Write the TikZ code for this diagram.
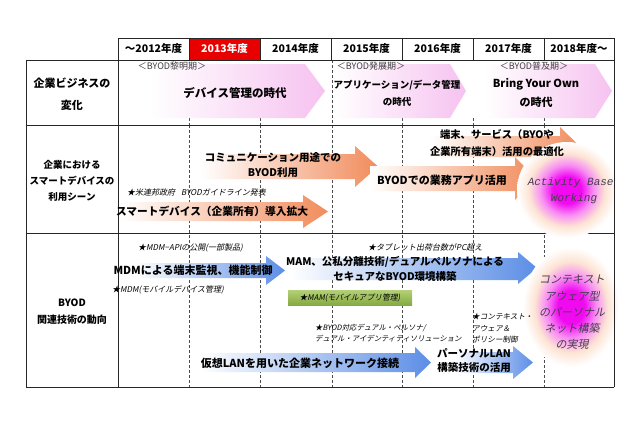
\documentclass[tikz,border=0pt]{standalone}
\usepackage{fontspec}
\newfontfamily\jp{Noto Sans CJK JP}
\newfontfamily\jpit{Noto Sans CJK JP}[FakeSlant=0.2]
\newfontfamily\abw{Liberation Mono}
\definecolor{pinkA}{RGB}{246,194,240}
\definecolor{orngA}{RGB}{241,140,92}
\definecolor{blueA}{RGB}{92,142,230}
\definecolor{hdrred}{RGB}{232,0,0}
\definecolor{grnTop}{RGB}{180,208,120}
\definecolor{grnBot}{RGB}{132,170,66}
\definecolor{glowM}{RGB}{240,10,240}
\definecolor{glowP}{RGB}{248,140,244}
\definecolor{peach}{RGB}{253,228,212}
\definecolor{txtgray}{RGB}{70,60,80}
\pgfdeclareradialshading{glowshade}{\pgfpoint{0bp}{0bp}}{color(0bp)=(glowM); color(7bp)=(glowM); color(13bp)=(glowP); color(19bp)=(peach); color(25bp)=(white); color(50bp)=(white)}
\begin{document}
\begin{tikzpicture}[x=1pt,y=-1pt,
  tbl/.style={draw=black!85, line width=0.8pt},
  dsh/.style={draw=black!70, line width=0.7pt, dash pattern=on 3pt off 2pt},
  hdr/.style={font=\fontsize{10.5}{12}\jp\bfseries, inner sep=0pt},
  rowlbl/.style={align=center, inner sep=0pt},
  era/.style={font=\fontsize{9}{11}\jp, text=black!75, inner sep=0pt},
  main/.style={font=\fontsize{11}{15}\jp\bfseries, align=center, inner sep=0pt},
  note/.style={font=\fontsize{8}{11.5}\jpit, align=left, inner sep=0pt, anchor=west},
  pinkarrow/.style={left color=white, middle color=pinkA!55!white, right color=pinkA},
  orngarrow/.style={left color=white, middle color=orngA!55!white, right color=orngA},
  bluearrow/.style={left color=white, middle color=blueA!55!white, right color=blueA}
]
\useasboundingbox (0,0) rectangle (640,426);
\fill[white] (0,0) rectangle (640,426);

% header red cell
\fill[hdrred] (189,38) rectangle (260,60);

% dashed column guides
\foreach \x in {189,260,402,473,544} \draw[dsh] (\x,118) -- (\x,125);
\draw[dsh] (332,60) -- (332,125);
\foreach \x in {189,260,332,402,473,544} \draw[dsh] (\x,125) -- (\x,387);

% row separators
\draw[tbl] (26,60) -- (614,60);
\draw[tbl] (26,125) -- (614,125);
\draw[tbl] (26,233) -- (614,233);
\draw[tbl] (26,387) -- (614,387);
\draw[tbl] (118,38) -- (614,38);
\foreach \x in {189,260,331,402,473,544} \draw[tbl] (\x,38) -- (\x,60);
\draw[tbl] (26,60) -- (26,387);
\draw[tbl] (118,38) -- (118,387);

% row 1 pink arrows
\shade[pinkarrow] (150,64) -- (305,64) -- (325,91) -- (305,118) -- (150,118) -- cycle;
\shade[pinkarrow] (335,64) -- (450,64) -- (466,91) -- (450,118) -- (335,118) -- cycle;
\shade[pinkarrow] (485,64) -- (595,64) -- (612,91) -- (595,118) -- (485,118) -- cycle;

% row 2 orange arrows
\shade[orngarrow] (120,202) -- (303,202) -- (303,195) -- (328,211.5) -- (303,228) -- (303,221) -- (120,221) -- cycle;
\shade[orngarrow] (200,154) -- (355,154) -- (355,146) -- (378,166.5) -- (355,187) -- (355,179) -- (200,179) -- cycle;
\shade[orngarrow] (370,166) -- (515,166) -- (515,157) -- (536,178.5) -- (515,200) -- (515,191) -- (370,191) -- cycle;
\shade[orngarrow] (430,136) -- (560,136) -- (560,127) -- (580,146.5) -- (560,166) -- (560,157) -- (430,157) -- cycle;

% row 3 blue arrows
\shade[bluearrow] (135,263) -- (266,263) -- (266,256) -- (285,270.5) -- (266,285) -- (266,278) -- (135,278) -- cycle;
\shade[bluearrow] (290,258) -- (518,258) -- (518,252) -- (537,268) -- (518,284) -- (518,280) -- (290,280) -- cycle;
\shade[bluearrow] (200,353) -- (415,353) -- (415,347) -- (431,362.5) -- (415,378) -- (415,372) -- (200,372) -- cycle;
\shade[bluearrow] (455,352) -- (513,352) -- (513,346) -- (533,362.5) -- (513,379) -- (513,373) -- (455,373) -- cycle;

% green box
\shade[top color=grnTop, bottom color=grnBot] (288,290) rectangle (412,305);

% glows
\begin{scope}
\clip (118,126) rectangle (614,240);
\shade[shading=glowshade] (567,190) ellipse [x radius=50pt, y radius=48pt];
\node[font=\fontsize{11}{16}\abw\itshape, text=txtgray, align=center, inner sep=0pt] (abw) at (574,191) {Activity Based\\Working};
\end{scope}
\shade[shading=glowshade] (571,307) ellipse [x radius=48pt, y radius=60pt];

% outer right border
\draw[tbl] (614,38) -- (614,387);

% header texts
\node[hdr] (h1) at (153.5,49) {～2012年度};
\node[hdr, text=white] (h2) at (224.5,49) {2013年度};
\node[hdr] (h3) at (295.5,49) {2014年度};
\node[hdr] (h4) at (366.5,49) {2015年度};
\node[hdr] (h5) at (437.5,49) {2016年度};
\node[hdr] (h6) at (508.5,49) {2017年度};
\node[hdr] (h7) at (579,49) {2018年度～};

% row labels
\node[rowlbl, font=\fontsize{11}{22}\jp\bfseries] (r1) at (72,94) {企業ビジネスの\\変化};
\node[rowlbl, font=\fontsize{9.5}{16}\jp\bfseries] (r2) at (72,181) {企業における\\スマートデバイスの\\利用シーン};
\node[rowlbl, font=\fontsize{10}{17}\jp\bfseries] (r3) at (72,311.5) {BYOD\\関連技術の動向};

% row 1 texts
\node[era] (e1) at (172,66) {＜BYOD黎明期＞};
\node[era] (e2) at (371,66) {＜BYOD発展期＞};
\node[era] (e3) at (534,66) {＜BYOD普及期＞};
\node[main, font=\fontsize{11.5}{15}\jp\bfseries] (t1) at (235,93) {デバイス管理の時代};
\node[main, font=\fontsize{9.5}{17}\jp\bfseries] (t2) at (397,93) {アプリケーション/データ管理\\の時代};
\node[main, font=\fontsize{11}{19}\jp\bfseries] (t3) at (536,92.5) {Bring Your Own\\の時代};

% row 2 texts
\node[note] (n1) at (127,192) {★米連邦政府\hspace{6pt}BYODガイドライン発表};
\node[main, font=\fontsize{10.7}{15}\jp\bfseries] (a1) at (212,211) {スマートデバイス（企業所有）導入拡大};
\node[main, font=\fontsize{10.5}{15}\jp\bfseries] (a2) at (273,165.5) {コミュニケーション用途での\\BYOD利用};
\node[main] (a3) at (442,180) {BYODでの業務アプリ活用};
\node[main, font=\fontsize{10.3}{17}\jp\bfseries] (a4) at (497,143.5) {端末、サービス（BYOや\\企業所有端末）活用の最適化};

% row 3 texts
\node[note] (n2) at (138,248) {★MDM−APIの公開(一部製品)};
\node[main] (b1) at (193,270) {MDMによる端末監視、機能制御};
\node[note] (n3) at (112,290) {★MDM(モバイルデバイス管理)};
\node[note] (n4) at (368,247) {★タブレット出荷台数がPC超え};
\node[main, font=\fontsize{10.5}{15}\jp\bfseries] (b2) at (395,268.5) {MAM、公私分離技術/デュアルペルソナによる\\セキュアなBYOD環境構築};
\node[font=\fontsize{7.8}{9}\jpit, inner sep=0pt] (g1) at (350,297.5) {★MAM(モバイルアプリ管理)};
\node[note, font=\fontsize{7.4}{11.5}\jpit] (n5) at (315,333) {★BYOD対応デュアル・ペルソナ/\\デュアル・アイデンティティソリューション};
\node[note, font=\fontsize{7.6}{11.5}\jpit] (n6) at (472,328.5) {★コンテキスト・\\アウェア＆\\ポリシー制御};
\node[main] (b3) at (300,363) {仮想LANを用いた企業ネットワーク接続};
\node[main, font=\fontsize{10.5}{14}\jp\bfseries] (b4) at (474,361) {パーソナルLAN\\構築技術の活用};
\node[font=\fontsize{11}{16.2}\jpit, text=txtgray, align=center, inner sep=0pt] (ctx) at (572,312.5) {コンテキスト\\アウェア型\\のパーソナル\\ネット構築\\の実現};
\end{tikzpicture}
\end{document}
